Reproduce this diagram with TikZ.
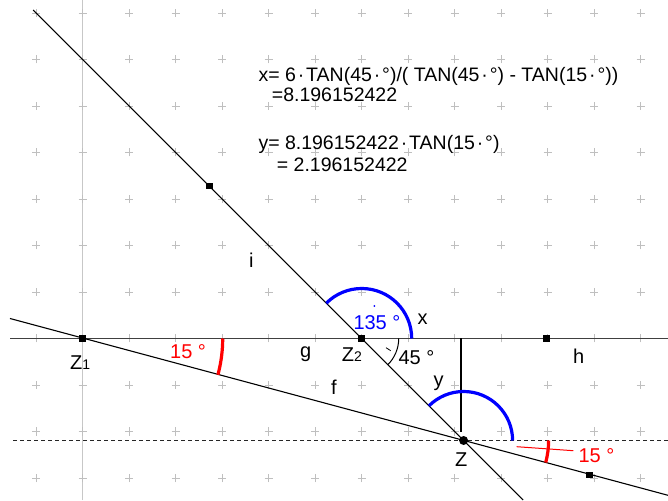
\documentclass[tikz,border=0pt]{standalone}
\usepackage{fontspec}
\setmainfont{Liberation Sans}
\newcommand{\md}{\kern1.9pt·\kern1.9pt}
\begin{document}
\begin{tikzpicture}[x=1pt,y=1pt,
  lbl/.style={anchor=base west,inner sep=0pt,font=\fontsize{20}{24}\selectfont},
  formula/.style={anchor=base west,inner sep=0pt,font=\fontsize{19.5}{23}\selectfont},
  ptmark/.style={fill=black,minimum size=6.5pt,inner sep=0pt,rectangle},
  dotmark/.style={fill=black,circle,minimum size=9pt,inner sep=0pt},
  gridplus/.style={draw=black!25,line width=0.8pt},
  thinline/.style={line width=1.1pt},
  bluearc/.style={draw=blue,line width=3.2pt},
  redarc/.style={draw=red,line width=3.2pt},
]
\useasboundingbox (0,0) rectangle (668,500);
\fill[white] (0,0) rectangle (668,500);
% grid
\draw[black!22,line width=1.3pt] (82.7,0) -- (82.7,500);
\foreach \i in {-1,...,12} {\foreach \j in {-7,...,3} {
  \draw[gridplus] ({82.7+46.5*\i-4},{161.5-46.5*\j}) -- ++(8,0) ({82.7+46.5*\i},{161.5-46.5*\j-4}) -- ++(0,8);
}}
% key points
\coordinate (cZ1) at (82.7,161.5);
\coordinate (cZ2) at (361.7,161.5);
\coordinate (cZ) at (463.6,59.5);
% lines
\coordinate (gL) at (10,161.5); \coordinate (gR) at (668,161.5);
\coordinate (fL) at (10,181.5); \coordinate (fR) at (668,4.7);
\coordinate (iT) at (33.2,490); \coordinate (iB) at (523.2,0);
\coordinate (dL) at (13,59.5); \coordinate (dR) at (668,59.5);
\coordinate (vT) at (461,161.5); \coordinate (vB) at (461,68);
\draw[line width=1.4pt,black!75] (gL) -- (gR);
\draw[thinline] (fL) -- (fR);
\draw[thinline] (iT) -- (iB);
\draw[line width=1pt,black!85,dash pattern=on 4pt off 3pt] (dL) -- (dR);
\draw[line width=1.5pt] (vT) -- (vB);
% arcs
\draw[bluearc] ([shift={(0:50)}]cZ2) arc[start angle=0,end angle=135,radius=50];
\draw[line width=1pt] ([shift={(-45:37)}]cZ2) arc[start angle=-45,end angle=0,radius=37];
\draw[bluearc] ([shift={(0:49)}]cZ) arc[start angle=0,end angle=135,radius=49];
\draw[redarc] ([shift={(-15:140)}]cZ1) arc[start angle=-15,end angle=0,radius=140];
\draw[redarc] ([shift={(-15:85)}]cZ) arc[start angle=-15,end angle=0,radius=85];
\coordinate (rl1) at (516.7,53.3); \coordinate (rl2) at (573.3,49.3);
\draw[red,line width=1pt] (rl1) -- (rl2);
\fill[blue] (374.3,194) circle (1pt);
\coordinate (tk1) at (386,152.3); \coordinate (tk2) at (390.7,149.3);
\draw[line width=0.8pt] (tk1) -- (tk2);
% point markers
\node[ptmark] (Z1) at (cZ1) {};
\node[ptmark] (Z2) at (cZ2) {};
\node[ptmark] (H) at (546.7,161.5) {};
\node[ptmark] (I) at (209.3,314) {};
\node[ptmark] (F) at (589.3,25) {};
\node[dotmark] (Z) at (cZ) {};
% labels
\node[lbl] (lZ1) at (70,130.7) {Z{\fontsize{14}{14}\selectfont 1}};
\node[lbl,red] (l15a) at (170,141.7) {15 °};
\node[lbl] (lg) at (300,142) {g};
\node[lbl] (lf) at (331,105) {f};
\node[lbl] (li) at (249,232) {i};
\node[lbl] (lZ2) at (341.7,138.3) {Z{\fontsize{14}{14}\selectfont 2}};
\node[lbl,blue] (l135) at (353.3,170.7) {135 °};
\node[lbl] (lx) at (417.3,175) {x};
\node[lbl] (l45) at (398.3,135) {45 °};
\node[lbl] (ly) at (433.3,113.3) {y};
\node[lbl] (lh) at (573,136.7) {h};
\node[lbl] (lZ) at (455,33.3) {Z};
\node[lbl,red] (l15b) at (578.3,37.3) {15 °};
% formulas
\node[formula] (t1) at (258.3,418.5) {x= 6\md TAN(45\md °)/( TAN(45\md °) - TAN(15\md °))};
\node[formula] (t2) at (271.7,398.3) {=8.196152422};
\node[formula] (t3) at (258.3,350) {y= 8.196152422\md TAN(15\md °)};
\node[formula] (t4) at (276.7,328) {= 2.196152422};
\end{tikzpicture}
\end{document}
